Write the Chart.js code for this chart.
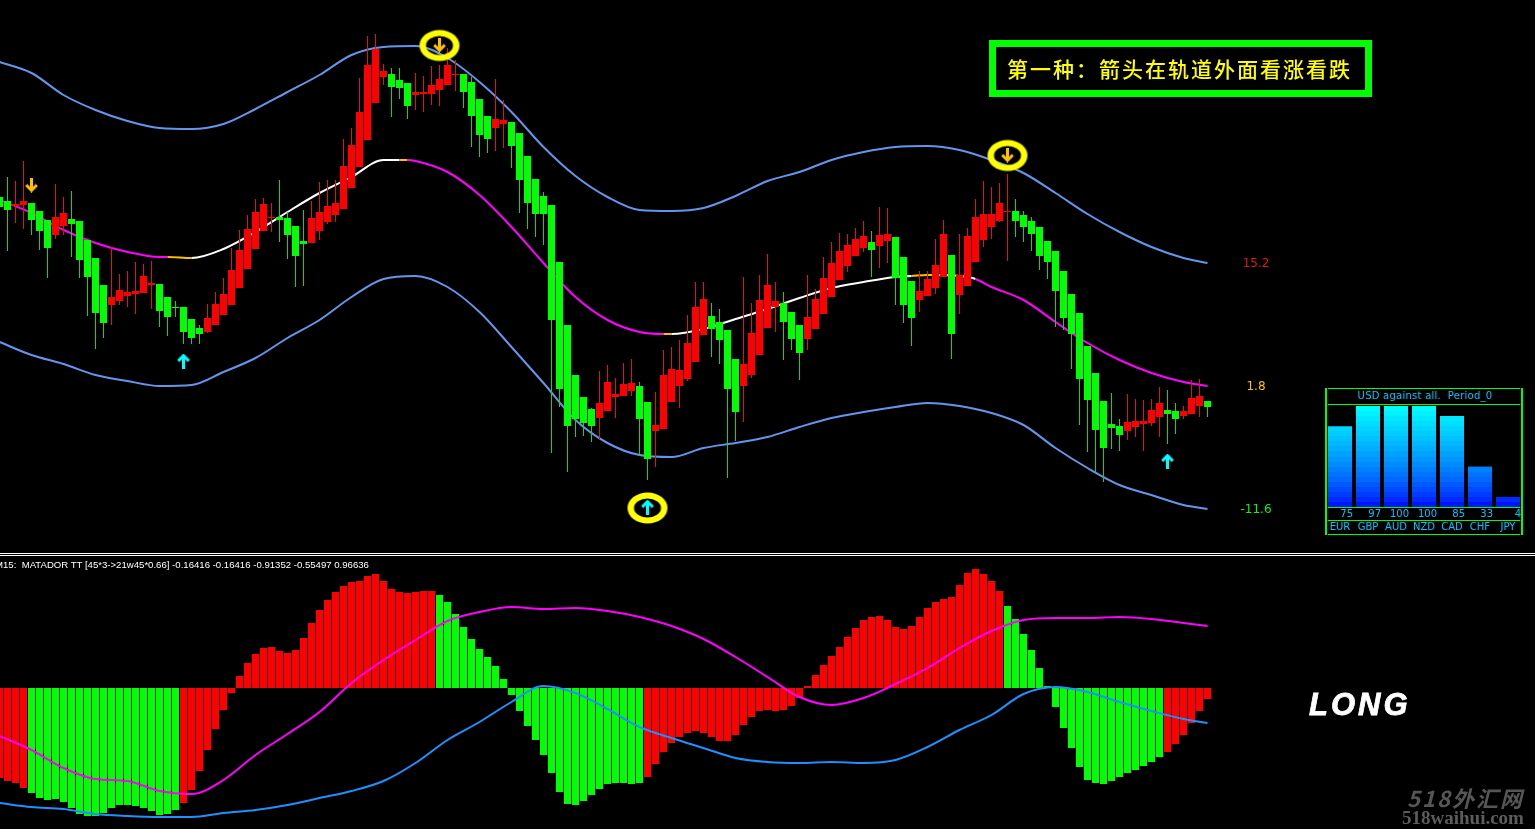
<!DOCTYPE html>
<html>
<head>
<meta charset="utf-8">
<title>MATADOR TT</title>
<script src="https://cdn.jsdelivr.net/npm/chart.js@4/dist/chart.umd.min.js"></script>
<style>
    html, body { margin: 0; padding: 0; background: #000; width: 1535px; height: 829px; overflow: hidden; }
    canvas { position: absolute; display: block; }
    .txt { position: absolute; white-space: pre; font-family: "DejaVu Sans", sans-serif; line-height: 1; }
    .rule { position: absolute; background: #00ff00; }
    #titleBox { position: absolute; left: 989px; top: 40px; width: 383px; height: 57px; box-sizing: border-box; border: 7px solid #00ff00; }
    #titleText { left: 1007px; top: 56px; color: #ffff00; font: 500 21px "Noto Sans CJK SC", sans-serif; letter-spacing: 2px; line-height: 24px; }
    #header { left: -5px; top: 559px; color: #fff; font: 9.6px "Liberation Sans", sans-serif; line-height: 11px; }
    #longText { left: 1309px; top: 688px; color: #fff; font: italic bold 31px "Liberation Sans", sans-serif; letter-spacing: 3px; -webkit-text-stroke: 0.8px #fff; line-height: 34px; }
    #mark1 { left: 1407px; top: 784px; color: #565656; font: italic bold 22px "Noto Sans CJK SC", sans-serif; letter-spacing: 2px; line-height: 26px; }
    #mark2 { left: 1402px; top: 808px; color: #5c5c5c; font: bold 19px "Liberation Serif", serif; line-height: 20px; }
</style>
</head>
<body>
<canvas id="mainChart" style="left:0;top:0"></canvas>
<canvas id="strengthChart" style="left:1326px;top:406px"></canvas>

<div style="position:absolute;left:0;top:553px;width:1535px;height:1px;background:#fff"></div>
<div style="position:absolute;left:0;top:555px;width:1535px;height:1px;background:#fff"></div>
<div id="titleBox"></div>
<div id="titleText" class="txt">第一种：箭头在轨道外面看涨看跌</div>
<div id="header" class="txt">M15:  MATADOR TT [45*3->21w45*0.66] -0.16416 -0.16416 -0.91352 -0.55497 0.96636</div>
<div id="longText" class="txt">LONG</div>
<div id="mark1" class="txt">518外汇网</div>
<div id="mark2" class="txt">518waihui.com</div>

<script>
// Candles, one value per bar
const candleOpen = [
    356,352,347,348,350,342,333,318,327,334,
    332,313,295,268,248,252,257,259,260,268,
    269,256,246,246,234,225,221,228,238,248,
    265,284,304,322,335,336,335,327,312,310,
    322,331,338,344,365,386,413,450,476,479,
    473,470,458,459,459,463,468,478,479,471,
    454,437,425,429,431,420,397,374,357,348,
    291,228,178,156,144,135,142,156,157,162,
    167,151,122,124,151,167,174,191,218,237,
    231,223,194,167,178,198,225,246,250,241,
    228,214,224,239,256,273,287,297,305,311,
    307,312,316,296,272,253,257,265,276,298,
    258,267,291,313,326,332,341,342,338,332,
    326,312,302,282,259,240,207,180,152,129,
    127,122,126,129,130,136,143,142,137,139,
    147,152];
const candleHigh = [
    363,376,372,392,350,342,333,369,356,362,
    332,313,295,268,306,279,282,291,289,292,
    269,256,252,246,234,228,249,261,275,305,
    323,338,354,355,350,373,341,327,343,352,
    371,373,373,414,425,475,517,519,489,485,
    485,470,480,477,487,488,505,493,479,476,
    454,437,474,453,431,420,397,374,361,348,
    291,228,178,156,145,182,188,175,190,194,
    171,151,161,203,206,213,238,271,271,250,
    244,223,194,276,250,278,299,271,261,241,
    228,278,264,296,311,320,319,325,332,322,
    346,345,316,296,272,282,282,314,333,298,
    319,325,354,372,366,370,379,354,342,336,
    326,312,302,282,259,240,207,180,152,160,
    134,159,154,153,154,166,163,150,147,173,
    174,152];
const candleLow = [
    336,302,330,324,318,303,275,314,318,296,
    275,237,204,215,228,248,246,239,260,244,
    226,217,236,209,209,209,220,228,238,248,
    265,284,304,322,321,311,294,266,267,310,
    313,329,331,344,365,386,413,450,468,436,
    454,434,443,441,448,447,468,462,445,406,
    396,400,402,405,385,340,324,316,308,100,
    146,81,116,117,111,113,142,135,157,157,
    97,73,86,124,151,145,172,191,218,196,
    189,75,112,131,175,198,225,221,193,203,
    173,203,224,239,256,273,281,297,301,276,
    285,290,248,230,207,241,257,259,276,194,
    239,267,291,306,314,331,292,316,311,302,
    283,274,226,223,184,128,101,80,71,104,
    102,113,116,102,127,116,109,119,134,139,
    136,136];
const candleClose = [
    346,343,349,352,333,322,305,336,340,329,
    293,276,240,230,256,263,261,262,277,270,
    242,236,245,221,215,219,235,249,259,283,
    303,324,341,349,336,333,318,297,309,335,
    341,347,350,387,408,441,488,504,482,466,
    465,447,461,461,468,474,488,479,461,437,
    418,414,434,433,407,373,350,339,339,233,
    164,127,134,130,127,150,171,159,169,170,
    134,94,128,178,184,183,210,246,254,224,
    213,164,141,189,220,253,268,252,231,214,
    200,236,254,275,290,302,308,314,317,303,
    318,319,275,248,235,262,274,288,319,219,
    278,317,336,339,339,350,342,332,326,319,
    297,291,262,235,219,174,153,123,105,125,
    118,131,132,132,143,150,139,134,142,155,
    157,146];

// Channel lines, read every fourth bar
const sampleBars = [0,4,8,12,16,20,24,28,32,36,40,44,48,52,56,60,64,68,72,76,80,84,88,92,96,100,104,108,112,116,120,124,128,132,136,140,144,148,151];
const upperBand = [491,480,458,443,432,425,424,429,444,461,478,498,506,507,495,471,441,406,377,356,343,342,345,357,372,381,393,401,406,407,403,393,380,360,339,321,306,295,290];
const lowerBand = [211,198,189,178,172,167,168,181,195,215,233,256,274,277,266,241,206,170,133,110,98,96,105,110,116,126,135,141,146,150,147,140,128,105,85,68,58,48,44];

// Middle line has extra reads where its colour changes
const midBars = [0,4,8,12,16,20,21,24,28,32,36,40,44,48,50,51,52,56,60,64,68,72,76,80,83,84,88,92,96,100,104,108,112,114,116,117,120,122,124,128,132,136,140,144,148,151];
const midLine = [353,340,323,310,301,296,296,295,304,321,341,360,376,393,393,393,392,381,358,326,290,256,233,221,219,219,224,234,244,255,265,271,276,277,278,278,277,274,266,253,231,210,193,180,171,167];
const midPhaseStart = [0,21,24,50,51,83,84,114,117,122];
const midPhaseName = ['down','flat','up','flat','down','flat','up','flat','up','down'];

// Arrows and circled signals
const downArrowBars = [4,55,126];
const downArrowValues = [368,508,398];
const upArrowBars = [23,81,146];
const upArrowValues = [192,46,92];
const circleBars = [55,81,126];
const circleValues = [507.5,45,397.5];

// Lower pane histogram and its two lines
const oscValues = [
    -90,-93,-95,-100,-105,-110,-112,-111,-114,-120,
    -126,-128,-128,-125,-120,-117,-117,-118,-120,-123,
    -127,-126,-122,-115,-102,-83,-62,-41,-22,-5,
    12,25,34,40,41,37,35,38,50,65,
    78,88,96,102,106,107,112,114,107,99,
    96,95,96,97,97,93,86,74,61,49,
    39,31,22,9,-7,-23,-38,-52,-67,-85,
    -104,-116,-117,-113,-107,-101,-96,-95,-95,-96,
    -95,-89,-76,-64,-55,-49,-45,-43,-45,-49,
    -53,-53,-47,-37,-29,-23,-22,-23,-22,-18,
    -10,2,13,23,32,41,51,60,68,71,
    72,68,61,59,62,71,80,86,89,91,
    103,115,119,114,107,97,82,69,54,38,
    20,2,-19,-40,-60,-79,-92,-95,-96,-93,
    -89,-85,-82,-78,-74,-69,-64,-56,-47,-35,
    -23,-11];
const oscGreenFrom = [4,55,126];
const oscGreenTo = [22,80,145];
const oscMagenta = [-48,-62,-80,-91,-93,-103,-106,-92,-67,-46,-24,5,28,48,67,76,81,79,80,77,71,62,49,31,11,-9,-17,-10,4,20,40,57,68,70,70,71,69,65,62];
const oscBlue = [-115,-119,-121,-126,-128,-129,-129,-125,-122,-117,-110,-103,-93,-75,-52,-34,-14,2,-5,-21,-39,-50,-60,-70,-74,-75,-74,-75,-72,-59,-42,-27,-6,1,-4,-14,-23,-31,-35];

// Currency strength panel
const currencies = ['EUR','GBP','AUD','NZD','CAD','CHF','JPY'];
const strengthValues = [75,97,100,100,85,33,4];
const strengthBlocks = [80,100,100,100,90,40,10];

// Right hand channel readings
const channelLabels = ['15.2','1.8','-11.6'];

const colors = {
    up: '#ff0000', down: '#00ff00', wickUp: '#e01212', wickDown: '#18d418',
    band: '#6495ed', oscMagenta: '#ff00ff', oscBlue: '#1e90ff',
    orange: '#ffc000', cyan: '#00ffff', circle: '#ffff00',
    midup: '#ffffff', midflat: '#ffc000', middown: '#ff00ff'
};

function points(bars, values) {
    return bars.map((bar, i) => ({ x: bar, y: values[i] }));
}

// Small canvas used as a point style for the signal arrows
function makeArrow(color, pointsDown) {
    const c = document.createElement('canvas');
    c.width = 13; c.height = 15;
    const g = c.getContext('2d');
    if (!pointsDown) {
        g.translate(0, 15);
        g.scale(1, -1);
    }
    g.strokeStyle = color;
    g.lineWidth = 3;
    g.beginPath();
    g.moveTo(6.5, 0);
    g.lineTo(6.5, 12);
    g.stroke();
    g.beginPath();
    g.moveTo(1.2, 7.5);
    g.lineTo(6.5, 12.8);
    g.lineTo(11.8, 7.5);
    g.stroke();
    return c;
}

// Ring as outer ellipse minus inner ellipse, thicker than a plain stroke
function makeCircle() {
    const c = document.createElement('canvas');
    c.width = 44; c.height = 36;
    const g = c.getContext('2d');
    g.fillStyle = colors.circle;
    g.beginPath();
    g.ellipse(22, 18, 20, 15.5, 0, 0, Math.PI * 2);
    g.ellipse(22, 18, 13.5, 9.5, 0, 0, Math.PI * 2);
    g.fill('evenodd');
    return c;
}

function midColor(bar) {
    let name = midPhaseName[0];
    midPhaseStart.forEach((start, i) => {
        if (bar >= start) name = midPhaseName[i];
    });
    return colors['mid' + name];
}

function isOscGreen(bar) {
    return oscGreenFrom.some((from, i) => bar >= from && bar <= oscGreenTo[i]);
}

const barIndex = candleOpen.map((_, i) => i);
const isUp = barIndex.map(i => candleClose[i] >= candleOpen[i] && i !== 22);

function lineDataset(data, color, yAxisID, order, width) {
    return {
        type: 'line', data: data, yAxisID: yAxisID, order: order,
        borderColor: color, borderWidth: width, pointRadius: 0,
        cubicInterpolationMode: 'monotone', fill: false
    };
}

function markerDataset(data, style, order) {
    return {
        type: 'line', data: data, yAxisID: 'yMain', order: order,
        showLine: false, pointRadius: 8, pointStyle: style,
        borderColor: 'transparent', backgroundColor: 'transparent'
    };
}

function barDataset(data, yAxisID, order, thickness, fill) {
    return {
        data: data, yAxisID: yAxisID, order: order, grouped: false,
        maxBarThickness: thickness, barPercentage: 1, categoryPercentage: 1,
        inflateAmount: 0, backgroundColor: fill
    };
}

const midDataset = lineDataset(points(midBars, midLine), colors.middown, 'yMain', 5, 2);
midDataset.segment = { borderColor: ctx => midColor(ctx.p0.parsed.x) };

const mainCanvas = document.getElementById('mainChart');
mainCanvas.width = 1535;
mainCanvas.height = 829;

new Chart(mainCanvas, {
    type: 'bar',
    data: {
        datasets: [
            markerDataset(points(circleBars, circleValues), makeCircle(), 0),
            markerDataset(points(downArrowBars, downArrowValues), makeArrow(colors.orange, true), 1),
            markerDataset(points(upArrowBars, upArrowValues), makeArrow(colors.cyan, false), 1),
            // candle bodies
            barDataset(barIndex.map(i => ({ x: i, y: [candleOpen[i], candleClose[i]] })), 'yMain', 2, 7,
                isUp.map(u => u ? colors.up : colors.down)),
            // candle wicks
            barDataset(barIndex.map(i => ({ x: i, y: [candleLow[i], candleHigh[i]] })), 'yMain', 3, 1,
                isUp.map(u => u ? colors.wickUp : colors.wickDown)),
            midDataset,
            lineDataset(points(sampleBars, upperBand), colors.band, 'yMain', 6, 2),
            lineDataset(points(sampleBars, lowerBand), colors.band, 'yMain', 6, 2),
            lineDataset(points(sampleBars, oscMagenta), colors.oscMagenta, 'yOsc', 1, 2),
            lineDataset(points(sampleBars, oscBlue), colors.oscBlue, 'yOsc', 1, 2),
            // histogram
            barDataset(barIndex.map(i => ({ x: i, y: oscValues[i] })), 'yOsc', 7, 7,
                barIndex.map(i => isOscGreen(i) ? colors.down : colors.up))
        ]
    },
    options: {
        responsive: false,
        animation: false,
        devicePixelRatio: 1,
        events: [],
        layout: { padding: 0, autoPadding: false },
        plugins: { legend: { display: false }, tooltip: { enabled: false } },
        scales: {
            x: { type: 'linear', display: false, offset: false, min: 0.0625, max: 191.9375 },
            yMain: { type: 'linear', display: false, min: -276, max: 553 },
            yOsc: { type: 'linear', display: false, min: -141, max: 688 }
        }
    }
});

// Stepped blue to cyan fill of the strength bars
function strengthFill(context) {
    const area = context.chart.chartArea;
    if (!area) return '#00a0ff';
    const gradient = context.chart.ctx.createLinearGradient(0, area.bottom, 0, area.top);
    const steps = 20;
    for (let s = 0; s < steps; s++) {
        const green = Math.round(255 * Math.pow((s + 0.5) / steps, 0.7));
        const color = `rgb(0,${green},255)`;
        gradient.addColorStop(s / steps, color);
        gradient.addColorStop((s + 1) / steps, color);
    }
    return gradient;
}

const strengthCanvas = document.getElementById('strengthChart');
strengthCanvas.width = 196;
strengthCanvas.height = 101;

new Chart(strengthCanvas, {
    type: 'bar',
    data: {
        labels: currencies,
        datasets: [{ data: strengthBlocks, barThickness: 24, inflateAmount: 0, backgroundColor: strengthFill }]
    },
    options: {
        responsive: false,
        animation: false,
        devicePixelRatio: 1,
        events: [],
        layout: { padding: 0, autoPadding: false },
        plugins: { legend: { display: false }, tooltip: { enabled: false } },
        scales: {
            x: { display: false },
            y: { display: false, min: 0, max: 100 }
        }
    }
});

// Text and frame around the panel
function addText(text, left, top, size, color, align) {
    const el = document.createElement('div');
    el.className = 'txt';
    el.textContent = text;
    el.style.top = top + 'px';
    el.style.fontSize = size + 'px';
    el.style.color = color;
    if (align === 'center') {
        el.style.left = (left - 100) + 'px';
        el.style.width = '200px';
        el.style.textAlign = 'center';
    } else {
        el.style.right = (1535 - left) + 'px';
    }
    document.body.appendChild(el);
    return el;
}

function addRule(left, top, width, height) {
    const el = document.createElement('div');
    el.className = 'rule';
    el.style.cssText = `left:${left}px;top:${top}px;width:${width}px;height:${height}px`;
    document.body.appendChild(el);
}

[388, 404, 507, 520, 534].forEach(top => addRule(1328, top, 192, 1));
addRule(1325, 388, 2, 147);
addRule(1521, 388, 2, 147);

const panelText = '#00c4ff';
addText('USD against all.  Period_0', 1425, 391, 10, panelText, 'center').style.letterSpacing = '0.25px';
currencies.forEach((name, i) => {
    addText(String(strengthValues[i]), 1353 + i * 28, 509, 10, panelText, 'right');
    addText(name, 1340 + i * 28, 522, 10, panelText, 'center');
});

const channelColors = ['#e01818', '#ffc000', '#12f012'];
const channelTops = [257, 380, 503];
channelLabels.forEach((label, i) => {
    addText(label, 1256, channelTops[i], 12, channelColors[i], 'center');
});
</script>
</body>
</html>
